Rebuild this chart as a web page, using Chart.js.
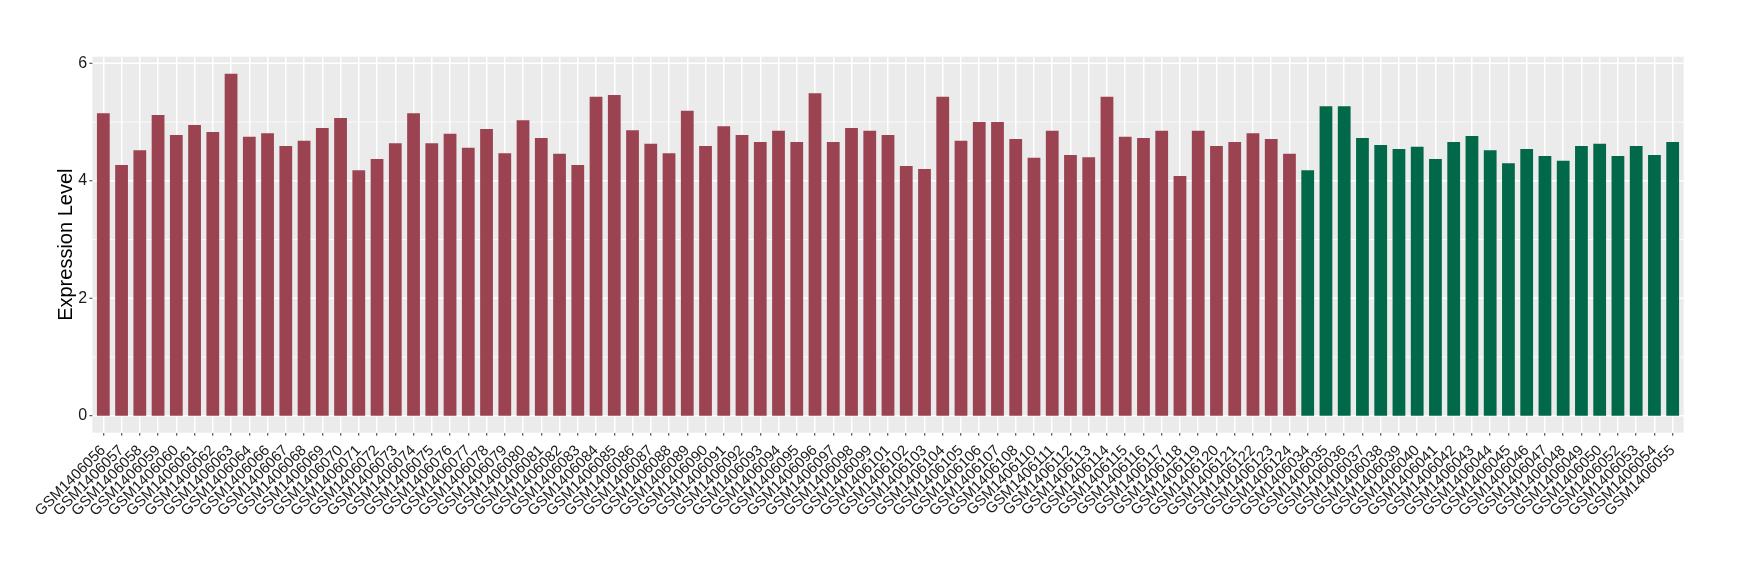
<!DOCTYPE html>
<html>
<head>
<meta charset="utf-8">
<title>Expression Level</title>
<script src="https://cdn.jsdelivr.net/npm/chart.js@4.4.1/dist/chart.umd.min.js"></script>
<style>
	html, body { margin: 0; padding: 0; background: #ffffff; }
	#wrap { width: 1740px; height: 580px; position: relative; }
</style>
</head>
<body>
<div id="wrap"><canvas id="myChart"></canvas></div>
<script>
// Samples of the first group (red bars)
const groupASamples = [
	"GSM1406056", "GSM1406057", "GSM1406058", "GSM1406059", "GSM1406060", "GSM1406061",
	"GSM1406062", "GSM1406063", "GSM1406064", "GSM1406066", "GSM1406067", "GSM1406068",
	"GSM1406069", "GSM1406070", "GSM1406071", "GSM1406072", "GSM1406073", "GSM1406074",
	"GSM1406075", "GSM1406076", "GSM1406077", "GSM1406078", "GSM1406079", "GSM1406080",
	"GSM1406081", "GSM1406082", "GSM1406083", "GSM1406084", "GSM1406085", "GSM1406086",
	"GSM1406087", "GSM1406088", "GSM1406089", "GSM1406090", "GSM1406091", "GSM1406092",
	"GSM1406093", "GSM1406094", "GSM1406095", "GSM1406096", "GSM1406097", "GSM1406098",
	"GSM1406099", "GSM1406101", "GSM1406102", "GSM1406103", "GSM1406104", "GSM1406105",
	"GSM1406106", "GSM1406107", "GSM1406108", "GSM1406110", "GSM1406111", "GSM1406112",
	"GSM1406113", "GSM1406114", "GSM1406115", "GSM1406116", "GSM1406117", "GSM1406118",
	"GSM1406119", "GSM1406120", "GSM1406121", "GSM1406122", "GSM1406123", "GSM1406124"
];
const groupAValues = [
	5.15, 4.27, 4.52, 5.12, 4.78, 4.95,
	4.83, 5.82, 4.75, 4.81, 4.59, 4.68,
	4.90, 5.07, 4.18, 4.37, 4.64, 5.15,
	4.64, 4.80, 4.56, 4.88, 4.47, 5.03,
	4.73, 4.46, 4.27, 5.43, 5.46, 4.86,
	4.63, 4.47, 5.19, 4.59, 4.93, 4.78,
	4.66, 4.85, 4.66, 5.49, 4.66, 4.90,
	4.85, 4.78, 4.25, 4.20, 5.43, 4.68,
	5.00, 5.00, 4.71, 4.39, 4.85, 4.44,
	4.40, 5.43, 4.75, 4.73, 4.85, 4.08,
	4.85, 4.59, 4.66, 4.81, 4.71, 4.46
];

// Samples of the second group (green bars)
const groupBSamples = [
	"GSM1406034", "GSM1406035", "GSM1406036", "GSM1406037", "GSM1406038", "GSM1406039",
	"GSM1406040", "GSM1406041", "GSM1406042", "GSM1406043", "GSM1406044", "GSM1406045",
	"GSM1406046", "GSM1406047", "GSM1406048", "GSM1406049", "GSM1406050", "GSM1406052",
	"GSM1406053", "GSM1406054", "GSM1406055"
];
const groupBValues = [
	4.18, 5.27, 5.27, 4.73, 4.61, 4.54,
	4.58, 4.37, 4.66, 4.76, 4.52, 4.30,
	4.54, 4.42, 4.34, 4.59, 4.63, 4.42,
	4.59, 4.44, 4.66
];

// Y axis ticks
const yTickValues = [0, 2, 4, 6];

(function(){

	"use strict";

	const colorA = "#9B4351";
	const colorB = "#02684A";
	const panelColor = "#EBEBEB";
	const fontFamily = "'Liberation Sans', Arial, Helvetica, sans-serif";

	var labls = groupASamples.concat(groupBSamples);
	var values = groupAValues.concat(groupBValues);
	var colors = [];
	for (let i = 0; i < groupASamples.length; i++) {
		colors.push(colorA);
	}
	for (let i = 0; i < groupBSamples.length; i++) {
		colors.push(colorB);
	}

	// Grey panel, horizontal grid lines and y tick marks (ggplot look)
	const panelPlugin = {
		id: "panel",
		beforeDraw: function(chart) {
			const ctx = chart.ctx;
			const area = chart.chartArea;
			const xs = chart.scales.x;
			const ys = chart.scales.y;
			const ext = (xs.getPixelForValue(1) - xs.getPixelForValue(0)) * 0.1;
			const left = area.left - ext;
			const right = area.right + ext;

			ctx.save();
			ctx.fillStyle = panelColor;
			ctx.fillRect(left, area.top, right - left, area.bottom - area.top);

			ctx.strokeStyle = "#FFFFFF";
			for (let v = 0; v <= 6; v++) {
				const y = ys.getPixelForValue(v);
				ctx.lineWidth = (v % 2 === 0) ? 1.5 : 0.75;
				ctx.beginPath();
				ctx.moveTo(left, y);
				ctx.lineTo(right, y);
				ctx.stroke();
			}

			ctx.strokeStyle = "#333333";
			ctx.lineWidth = 1;
			yTickValues.forEach(function(v){
				const y = ys.getPixelForValue(v);
				ctx.beginPath();
				ctx.moveTo(left - 3, y);
				ctx.lineTo(left, y);
				ctx.stroke();
			});
			ctx.restore();
		}
	};

	const data = {
		labels: labls,
		datasets: [{
			label: "Expression Level",
			data: values,
			backgroundColor: colors,
			borderWidth: 0,
			barPercentage: 0.7,
			categoryPercentage: 1.0
		}]
	};

	const config = {
		type: "bar",
		data,
		plugins: [panelPlugin],
		options: {
			responsive: true,
			maintainAspectRatio: false,
			animation: false,
			devicePixelRatio: 1,
			layout: {
				padding: { top: 56.7, right: 58.2, bottom: 0, left: 54 }
			},
			plugins: {
				legend: { display: false },
				tooltip: { enabled: false }
			},
			scales: {
				x: {
					type: "category",
					offset: true,
					border: { display: false },
					grid: {
						offset: false,
						color: "#FFFFFF",
						lineWidth: 1.5,
						drawTicks: true,
						tickLength: 3,
						tickColor: "#333333",
						tickWidth: 1
					},
					ticks: {
						autoSkip: false,
						minRotation: 45,
						maxRotation: 45,
						padding: 6,
						color: "#1A1A1A",
						font: { family: fontFamily, size: 15 }
					},
					afterFit: function(scale) {
						scale.height = 147.3;
					}
				},
				y: {
					min: -0.289,
					max: 6.112,
					border: { display: false },
					grid: { display: false, drawTicks: false },
					ticks: {
						stepSize: 1,
						includeBounds: false,
						padding: 7,
						color: "#1A1A1A",
						font: { family: fontFamily, size: 16 },
						callback: function(v) {
							return yTickValues.indexOf(v) >= 0 ? String(v) : "";
						}
					},
					title: {
						display: true,
						text: "Expression Level",
						color: "#000000",
						font: { family: fontFamily, size: 20 },
						padding: { top: 0, bottom: 0 }
					},
					afterFit: function(scale) {
						scale.width = 40.2;
					}
				}
			}
		}
	};

	var myChart = new Chart(document.getElementById("myChart"), config);

})();
</script>
</body>
</html>
